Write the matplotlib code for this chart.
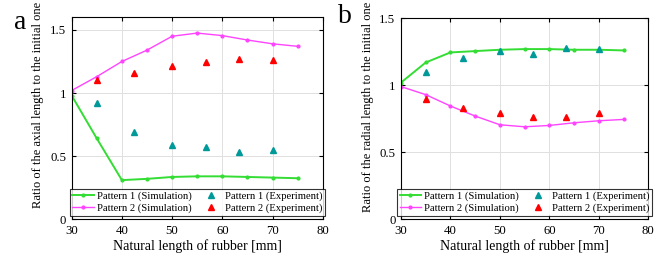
import matplotlib
matplotlib.use("Agg")
import matplotlib.pyplot as plt

plt.rcParams['font.family'] = ['Liberation Serif', 'DejaVu Serif']
plt.rcParams['mathtext.fontset'] = 'stix'

x_sim = [30, 35, 40, 45, 50, 55, 60, 65, 70, 75]
x_exp = [35, 42.5, 50, 56.7, 63.3, 70]

# Panel a: axial ratio
a_p1_sim = [0.98, 0.64, 0.31, 0.32, 0.335, 0.34, 0.34, 0.335, 0.33, 0.325]
a_p2_sim = [1.02, 1.13, 1.25, 1.34, 1.45, 1.475, 1.455, 1.42, 1.39, 1.37]
a_p1_exp = [0.92, 0.69, 0.59, 0.575, 0.535, 0.55]
a_p2_exp = [1.10, 1.16, 1.215, 1.245, 1.27, 1.265]

# Panel b: radial ratio
b_p1_sim = [1.02, 1.17, 1.245, 1.255, 1.265, 1.27, 1.27, 1.265, 1.265, 1.26]
b_p2_sim = [0.99, 0.93, 0.845, 0.77, 0.705, 0.69, 0.70, 0.72, 0.735, 0.745]
b_p1_exp = [1.10, 1.20, 1.255, 1.235, 1.275, 1.27]
b_p2_exp = [0.90, 0.83, 0.79, 0.76, 0.76, 0.795]

labels = ['Pattern 1 (Simulation)', 'Pattern 2 (Simulation)',
          'Pattern 1 (Experiment)', 'Pattern 2 (Experiment)']
xticks = [30, 40, 50, 60, 70, 80]

GREEN = '#33dd33'
MAGENTA = '#ff44ff'
TEAL = '#009999'
RED = '#ff0000'

fig = plt.figure(figsize=(6.7, 2.61), dpi=100)
ax1 = fig.add_axes([0.107, 0.160, 0.3747, 0.7737])
ax2 = fig.add_axes([0.5985, 0.160, 0.3691, 0.770])

def draw(ax, p1s, p2s, p1e, p2e, ylim, yticks, ylabel, ylab_y):
    l1, = ax.plot(x_sim, p1s, '-', color=GREEN, lw=1.4, marker='.', ms=4)
    l2, = ax.plot(x_sim, p2s, '-', color=MAGENTA, lw=1.0, marker='.', ms=4)
    l3, = ax.plot(x_exp, p1e, '^', color=TEAL, ms=5, ls='none')
    l4, = ax.plot(x_exp, p2e, '^', color=RED, ms=5, ls='none')
    ax.set_xlim(30, 80)
    ax.set_ylim(*ylim)
    ax.set_xticks(xticks)
    ax.set_yticks(yticks)
    ax.set_yticklabels([('%g' % t) for t in yticks])
    ax.grid(True, color='#e0e0e0', lw=0.7)
    ax.set_axisbelow(True)
    ax.tick_params(direction='in', labelsize=9.2, length=3, top=True, right=True, pad=4)
    ax.set_xlabel('Natural length of rubber [mm]', fontsize=10, labelpad=2)
    ax.set_ylabel(ylabel, fontsize=9.0)
    ax.yaxis.set_label_coords(-0.11, ylab_y)
    for s in ax.spines.values():
        s.set_linewidth(0.8)
    leg = ax.legend([l1, l2, l3, l4], labels, ncol=2, loc='lower center',
                    fontsize=7.7, frameon=True, fancybox=False, edgecolor='black',
                    borderpad=0.25, handlelength=2.0, handletextpad=0.3,
                    columnspacing=0.8, labelspacing=0.25, borderaxespad=0.3)
    leg.get_frame().set_linewidth(0.8)

draw(ax1, a_p1_sim, a_p2_sim, a_p1_exp, a_p2_exp, (0, 1.6), [0, 0.5, 1, 1.5],
     'Ratio of the axial length to the initial one', 0.566)
draw(ax2, b_p1_sim, b_p2_sim, b_p1_exp, b_p2_exp, (0, 1.5), [0, 0.5, 1, 1.5],
     'Ratio of the radial length to the initial one', 0.559)

fig.text(0.03, 0.915, 'a', fontsize=20, ha='center', va='center')
fig.text(0.515, 0.935, 'b', fontsize=20, ha='center', va='center')

fig.savefig('out.png', dpi=100)
